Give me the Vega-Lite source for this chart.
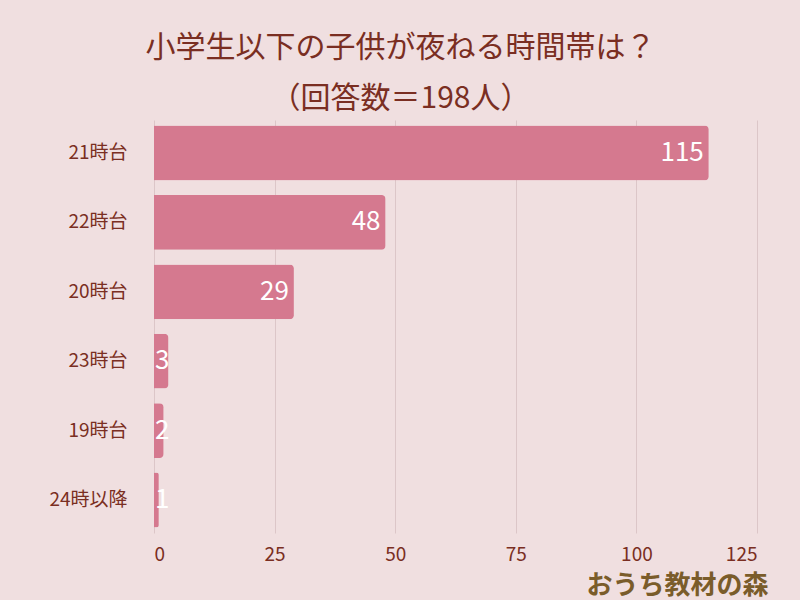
{
  "$schema": "https://vega.github.io/schema/vega-lite/v6.json",
  "autosize": "none",
  "width": 603,
  "height": 413,
  "padding": {"left": 154, "top": 120, "right": 43, "bottom": 67},
  "background": "#f0dfe0",
  "title": {
    "text": ["小学生以下の子供が夜ねる時間帯は？", "（回答数＝198人）"],
    "frame": "group",
    "anchor": "middle",
    "dx": -55,
    "offset": 6,
    "fontSize": 30,
    "lineHeight": 51,
    "fontWeight": "normal",
    "font": "Noto Sans CJK JP",
    "color": "#7a2e22"
  },
  "data": {
    "values": [
      {"time": "21時台", "count": 115},
      {"time": "22時台", "count": 48},
      {"time": "20時台", "count": 29},
      {"time": "23時台", "count": 3},
      {"time": "19時台", "count": 2},
      {"time": "24時以降", "count": 1}
    ]
  },
  "encoding": {
    "y": {
      "field": "time",
      "type": "nominal",
      "sort": null,
      "title": null,
      "scale": {"paddingInner": 0.21, "paddingOuter": 0.08},
      "axis": {
        "ticks": false,
        "domain": false,
        "labelPadding": 27,
        "labelFontSize": 19,
        "labelColor": "#7a2e22",
        "labelFont": "Noto Sans CJK JP"
      }
    },
    "x": {
      "field": "count",
      "type": "quantitative",
      "scale": {"domain": [0, 125]},
      "title": "おうち教材の森",
      "axis": {
        "values": [0, 25, 50, 75, 100, 125],
        "ticks": false,
        "domain": false,
        "grid": true,
        "gridColor": "#dcc6c8",
        "labelPadding": 12,
        "labelFontSize": 19,
        "labelColor": "#7a2e22",
        "labelFont": "Noto Sans CJK JP",
        "titleFont": "Noto Sans CJK JP",
        "titleFontSize": 26,
        "titleFontWeight": "bold",
        "titleColor": "#7a5c2a",
        "titleAnchor": "end",
        "titleAlign": "right",
        "titleX": 614,
        "titleY": 52,
        "titleBaseline": "middle"
      }
    }
  },
  "layer": [
    {
      "mark": {"type": "bar", "color": "#d5798f", "cornerRadiusEnd": 4}
    },
    {
      "transform": [{"filter": "datum.count >= 10"}],
      "mark": {"type": "text", "align": "right", "dx": -5, "color": "white", "fontSize": 26, "font": "Noto Sans CJK JP"},
      "encoding": {"text": {"field": "count", "type": "quantitative"}}
    },
    {
      "transform": [{"filter": "datum.count < 10"}],
      "mark": {"type": "text", "align": "left", "dx": 1, "color": "white", "fontSize": 26, "font": "Noto Sans CJK JP"},
      "encoding": {
        "x": {"datum": 0, "type": "quantitative"},
        "text": {"field": "count", "type": "quantitative"}
      }
    }
  ],
  "config": {"view": {"stroke": null}}
}
